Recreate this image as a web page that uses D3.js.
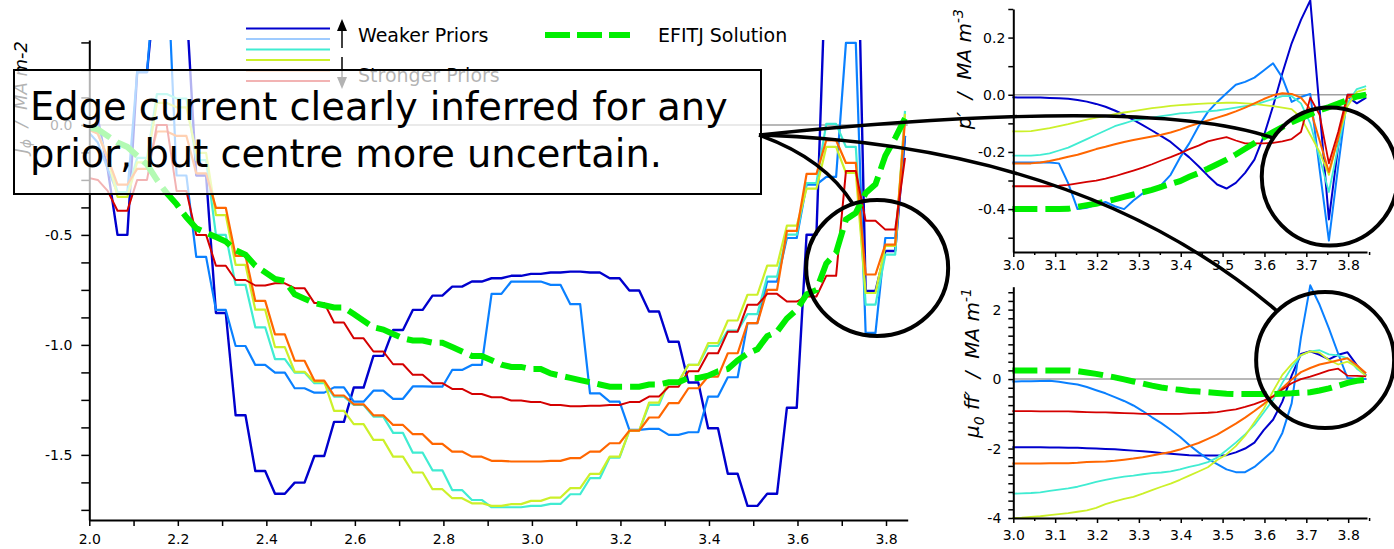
<!DOCTYPE html>
<html><head><meta charset="utf-8">
<script src="https://cdn.jsdelivr.net/npm/d3@7/dist/d3.min.js"></script>
<style>
body{margin:0;background:#fff;}
svg text{font-family:"DejaVu Sans",sans-serif;}
</style></head>
<body><svg id="chart" width="1394" height="549"></svg>
<script>
// ================= DATA =================
// sample grid in major radius R (m)
const gridStart = 1.997, gridStep = 0.02224, gridCount = 84;
const gridR = d3.range(gridCount).map(j => gridStart + j * gridStep);

// J_phi (main panel). Layout of each array: 3 single edge samples,
// then 40 step levels (each level held over two samples), then the last sample.
const jphiDarkBlue = [0.03, 0.03, -0.2,
  -0.50, 0.24, 0.70, 0.55, -0.23, -0.855, -1.32, -1.573, -1.677, -1.626,
  -1.505, -1.35, -1.194, -1.05, -0.932, -0.841, -0.776, -0.735, -0.712, -0.697,
  -0.686, -0.677, -0.671, -0.667, -0.671, -0.697, -0.753, -0.848, -0.986, -1.171,
  -1.379, -1.586, -1.732, -1.677, -1.286, -0.499, 0.8, 1.3, -0.755, -0.573,
  -0.05];
const jphiDodger = [-0.03, -0.08, -0.2,
  -0.31, 0.24, 0.8, -0.23, -0.60, -0.841, -1.005, -1.091, -1.126, -1.197,
  -1.217, -1.193, -1.258, -1.208, -1.245, -1.189, -1.19, -1.114, -1.091, -0.768,
  -0.712, -0.712, -0.727, -0.815, -1.22, -1.258, -1.386, -1.382, -1.409, -1.397,
  -1.235, -1.147, -0.901, -0.712, -0.514, -0.271, -0.236, 0.373, -0.945, -0.514,
  -0.05];
const jphiCyan = [-0.01, -0.03, -0.15,
  -0.305, -0.15, 0.14, 0.12, -0.16, -0.50, -0.727, -0.92, -1.065, -1.126,
  -1.174, -1.235, -1.273, -1.326, -1.40, -1.49, -1.57, -1.66, -1.705, -1.738,
  -1.738, -1.732, -1.723, -1.679, -1.606, -1.512, -1.39, -1.273, -1.167, -1.091,
  -1.005, -0.935, -0.86, -0.69, -0.499, -0.264, 0.005, -0.1, -0.817, -0.59,
  0.064];
const jphiYellow = [-0.01, -0.04, -0.15,
  -0.327, -0.17, 0.10, 0.08, -0.127, -0.41, -0.636, -0.84, -1.01, -1.122,
  -1.167, -1.30, -1.36, -1.432, -1.508, -1.58, -1.656, -1.697, -1.72, -1.732,
  -1.724, -1.709, -1.694, -1.651, -1.586, -1.508, -1.39, -1.262, -1.167, -1.091,
  -0.992, -0.889, -0.772, -0.64, -0.458, -0.29, -0.1, -0.218, -0.764, -0.55,
  0.05];
const jphiOrange = [-0.02, -0.04, -0.15,
  -0.271, -0.2, -0.03, -0.05, -0.22, -0.377, -0.595, -0.80, -0.952, -1.072,
  -1.162, -1.23, -1.27, -1.32, -1.364, -1.406, -1.45, -1.485, -1.508, -1.527,
  -1.53, -1.53, -1.527, -1.515, -1.485, -1.447, -1.39, -1.33, -1.265, -1.197,
  -1.144, -1.038, -0.901, -0.75, -0.482, -0.223, -0.07, -0.173, -0.68, -0.544,
  0.02];
const jphiRed = [-0.24, -0.25, -0.3,
  -0.39, -0.25, 0.0, -0.30, -0.50, -0.64, -0.705, -0.73, -0.72, -0.742,
  -0.81, -0.898, -0.97, -1.03, -1.088, -1.136, -1.174, -1.2, -1.223, -1.238,
  -1.253, -1.26, -1.273, -1.279, -1.277, -1.273, -1.26, -1.235, -1.19, -1.12,
  -1.038, -0.94, -0.818, -0.768, -0.803, -0.78, -0.686, -0.21, -0.436, -0.476,
  -0.15];
// EFITJ solution, one value per grid sample
const jphiEFITJ = [-0.01,-0.02,-0.05,-0.08,-0.10,-0.14,-0.18,-0.25,-0.31,-0.36,
  -0.42,-0.47,-0.49,-0.51,-0.53,-0.57,-0.59,-0.64,-0.67,-0.70,
  -0.71,-0.77,-0.79,-0.81,-0.82,-0.83,-0.83,-0.86,-0.89,-0.92,
  -0.93,-0.95,-0.97,-0.98,-0.98,-0.99,-0.99,-1.01,-1.03,-1.05,
  -1.05,-1.07,-1.09,-1.10,-1.10,-1.11,-1.11,-1.13,-1.14,-1.15,
  -1.16,-1.17,-1.18,-1.19,-1.19,-1.19,-1.19,-1.18,-1.18,-1.17,
  -1.17,-1.15,-1.15,-1.14,-1.12,-1.11,-1.07,-1.04,-1.02,-0.96,
  -0.94,-0.88,-0.84,-0.77,-0.75,-0.63,-0.58,-0.43,-0.40,-0.31,
  -0.27,-0.14,-0.06,0.03];

// right panels use grid samples 45..83 (R = 3.0 .. 3.845)
const rightStartIndex = 45;
const ppDarkBlue = [-0.009,-0.01,-0.01,-0.01,-0.011,-0.012,-0.014,-0.018,-0.024,-0.032,
  -0.042,-0.055,-0.07,-0.088,-0.106,-0.125,-0.145,-0.165,-0.192,-0.219,
  -0.25,-0.283,-0.314,-0.328,-0.308,-0.273,-0.227,-0.145,-0.04,0.075,
  0.18,0.262,0.33,-0.05,-0.436,-0.18,-0.006,-0.03,-0.01];
const ppDodger = [-0.237,-0.237,-0.237,-0.237,-0.237,-0.24,-0.31,-0.40,-0.395,-0.385,
  -0.375,-0.39,-0.40,-0.37,-0.345,-0.33,-0.315,-0.28,-0.22,-0.17,
  -0.11,-0.06,-0.025,0.005,0.035,0.045,0.06,0.085,0.11,0.06,
  -0.025,-0.008,0.003,-0.26,-0.51,-0.25,0.0,0.0,0.0];
const ppCyan = [-0.213,-0.213,-0.213,-0.21,-0.205,-0.195,-0.185,-0.17,-0.155,-0.14,
  -0.125,-0.11,-0.10,-0.09,-0.085,-0.08,-0.075,-0.07,-0.065,-0.063,
  -0.06,-0.058,-0.055,-0.05,-0.045,-0.04,-0.035,-0.025,-0.015,-0.005,
  -0.005,-0.03,-0.1,-0.22,-0.34,-0.18,-0.03,0.02,0.03];
const ppYellow = [-0.128,-0.128,-0.127,-0.122,-0.117,-0.11,-0.103,-0.095,-0.087,-0.08,
  -0.075,-0.068,-0.062,-0.057,-0.052,-0.047,-0.043,-0.039,-0.036,-0.034,
  -0.032,-0.03,-0.029,-0.028,-0.028,-0.03,-0.032,-0.036,-0.04,-0.045,
  -0.05,-0.08,-0.14,-0.2,-0.28,-0.15,-0.04,0.01,0.02];
const ppOrange = [-0.24,-0.24,-0.24,-0.237,-0.232,-0.225,-0.217,-0.21,-0.2,-0.19,
  -0.182,-0.173,-0.165,-0.158,-0.152,-0.146,-0.14,-0.132,-0.122,-0.11,
  -0.1,-0.09,-0.08,-0.07,-0.058,-0.045,-0.03,-0.015,-0.002,0.005,
  0.003,-0.01,-0.05,-0.16,-0.27,-0.15,-0.01,0.0,0.0];
const ppRed = [-0.32,-0.32,-0.32,-0.32,-0.32,-0.318,-0.315,-0.31,-0.305,-0.3,
  -0.293,-0.285,-0.275,-0.265,-0.255,-0.243,-0.23,-0.218,-0.205,-0.19,
  -0.178,-0.163,-0.155,-0.148,-0.16,-0.17,-0.17,-0.17,-0.168,-0.163,
  -0.155,-0.13,-0.01,-0.07,-0.24,-0.13,0.0,0.0,0.0];
const ppEFITJ = [-0.40,-0.40,-0.40,-0.40,-0.40,-0.40,-0.399,-0.392,-0.386,-0.381,
  -0.373,-0.366,-0.357,-0.349,-0.341,-0.333,-0.322,-0.312,-0.302,-0.287,
  -0.274,-0.259,-0.243,-0.227,-0.209,-0.189,-0.169,-0.149,-0.131,-0.113,
  -0.096,-0.082,-0.068,-0.054,-0.043,-0.031,-0.018,-0.006,0.0];

const ffDarkBlue = [-1.96,-1.96,-1.96,-1.96,-1.97,-1.97,-1.98,-1.98,-1.99,-2.0,
  -2.01,-2.02,-2.04,-2.06,-2.08,-2.1,-2.13,-2.15,-2.17,-2.19,
  -2.2,-2.2,-2.2,-2.19,-2.11,-2.0,-1.83,-1.47,-1.17,-0.65,
  0.1,0.72,0.8,0.7,0.57,0.7,0.77,0.4,0.1];
const ffDodger = [-0.07,-0.065,-0.06,-0.055,-0.05,-0.08,-0.12,-0.155,-0.23,-0.32,
  -0.41,-0.52,-0.63,-0.76,-0.92,-1.1,-1.27,-1.46,-1.66,-1.9,
  -2.11,-2.3,-2.45,-2.6,-2.68,-2.68,-2.53,-2.3,-2.06,-1.55,
  -0.7,1.2,2.7,2.14,1.46,0.73,0.03,0.0,0.0];
const ffCyan = [-3.3,-3.29,-3.28,-3.26,-3.22,-3.18,-3.15,-3.1,-3.03,-2.96,
  -2.9,-2.85,-2.81,-2.78,-2.74,-2.71,-2.69,-2.66,-2.6,-2.53,
  -2.47,-2.39,-2.26,-2.05,-1.83,-1.59,-1.32,-0.96,-0.6,-0.11,
  0.33,0.68,0.8,0.83,0.71,0.68,0.6,0.3,0.1];
const ffYellow = [-4.0,-3.99,-3.97,-3.95,-3.92,-3.89,-3.86,-3.82,-3.78,-3.71,
  -3.6,-3.52,-3.45,-3.39,-3.3,-3.2,-3.1,-3.01,-2.9,-2.78,
  -2.66,-2.54,-2.33,-2.17,-1.93,-1.63,-1.24,-0.86,-0.35,0.12,
  0.43,0.69,0.8,0.76,0.55,0.42,0.5,0.35,0.08];
const ffOrange = [-2.43,-2.43,-2.43,-2.43,-2.42,-2.42,-2.42,-2.41,-2.39,-2.38,
  -2.37,-2.35,-2.32,-2.29,-2.25,-2.2,-2.15,-2.1,-2.03,-1.93,
  -1.84,-1.72,-1.6,-1.44,-1.28,-1.11,-0.92,-0.72,-0.5,-0.26,
  -0.01,0.2,0.32,0.42,0.48,0.54,0.6,0.4,0.17];
const ffRed = [-0.92,-0.92,-0.92,-0.93,-0.93,-0.93,-0.93,-0.94,-0.95,-0.96,
  -0.96,-0.97,-0.98,-0.99,-1.0,-1.0,-1.0,-1.0,-1.0,-0.99,
  -0.98,-0.97,-0.95,-0.91,-0.87,-0.8,-0.72,-0.62,-0.5,-0.3,
  -0.12,0.0,0.07,0.16,0.25,0.3,0.1,0.09,0.08];
const ffEFITJ = [0.25,0.25,0.25,0.25,0.25,0.25,0.25,0.23,0.19,0.15,
  0.1,0.05,-0.01,-0.07,-0.13,-0.19,-0.24,-0.28,-0.31,-0.34,
  -0.36,-0.38,-0.4,-0.42,-0.43,-0.43,-0.43,-0.43,-0.43,-0.42,
  -0.41,-0.39,-0.38,-0.33,-0.27,-0.19,-0.11,-0.05,-0.02];

// ticks & labels
const mainXTicks = [2.0,2.1,2.2,2.3,2.4,2.5,2.6,2.7,2.8,2.9,3.0,3.1,3.2,3.3,3.4,3.5,3.6,3.7,3.8];
const mainXLabels = ["2.0","2.2","2.4","2.6","2.8","3.0","3.2","3.4","3.6","3.8"];
const mainYTicks = [-1.75,-1.625,-1.5,-1.375,-1.25,-1.125,-1.0,-0.875,-0.75,-0.625,-0.5,-0.375,-0.25,-0.125,0.0,0.125,0.25,0.375];
const mainYLabels = ["-1.5","-1.0","-0.5","0.0"];
const rightXTicks = [3.0,3.1,3.2,3.3,3.4,3.5,3.6,3.7,3.8];
const rightXLabels = ["3.0","3.1","3.2","3.3","3.4","3.5","3.6","3.7","3.8"];
const rightXMinor = [3.05,3.15,3.25,3.35,3.45,3.55,3.65,3.75,3.85];
const ppYTicks = [-0.5,-0.4,-0.3,-0.2,-0.1,0.0,0.1,0.2,0.3];
const ppYLabels = ["-0.4","-0.2","0.0","0.2"];
const ffYTicks = d3.range(-4, 2.51, 0.25);
const ffYLabels = ["-4","-2","0","2"];

const legendNames = ["Weaker Priors", "Stronger Priors", "EFITJ Solution"];
const annotationLines = ["Edge current clearly inferred for any", "prior, but centre more uncertain."];

const colors = {darkBlue:"#0000cd", dodger:"#0a80ff", cyan:"#40ecd2", yellow:"#ccf02a",
                orange:"#ff6600", red:"#d40000", green:"#00ee00", legendLight:"#9fcbff"};

// ================= DRAWING =================
const svg = d3.select("#chart");
const expandSteps = a => [a[0], a[1], a[2], ...a.slice(3, a.length - 1).flatMap(v => [v, v]), a[a.length - 1]];

function styleAxis(g, fs) {
  g.attr("font-family", "DejaVu Sans").attr("font-size", fs);
  g.select(".domain").attr("stroke", "#000").attr("stroke-width", 2);
  g.selectAll(".tick line").attr("stroke", "#000").attr("stroke-width", 1.5);
  g.selectAll(".tick text").attr("fill", "#000");
}

// ---------- main panel ----------
const xM = d3.scaleLinear().domain([2.0, 3.849]).range([89.3, 907.7]);
const yM = d3.scaleLinear().domain([-1.796, 0.386]).range([520, 40]);
const gMain = svg.append("g");
const defs = svg.append("defs");
defs.append("clipPath").attr("id", "clipMain").append("rect")
  .attr("x", xM(2.0)).attr("y", yM(0.386)).attr("width", xM(3.849) - xM(2.0)).attr("height", yM(-1.796) - yM(0.386));

gMain.append("line").attr("x1", xM(2.0)).attr("x2", xM(3.849)).attr("y1", yM(0)).attr("y2", yM(0))
  .attr("stroke", "#a0a0a0").attr("stroke-width", 1.5);

const lineM = d3.line().x(d => xM(d[0])).y(d => yM(d[1])).curve(d3.curveLinear);
const mainSeries = [
  [jphiDarkBlue, colors.darkBlue, 2.4],
  [jphiDodger, colors.dodger, 2.2],
  [jphiCyan, colors.cyan, 2.2],
  [jphiYellow, colors.yellow, 2.2],
  [jphiOrange, colors.orange, 2.2],
  [jphiRed, colors.red, 2.0]
];
const gLines = gMain.append("g").attr("clip-path", "url(#clipMain)");
mainSeries.forEach(([arr, col, w]) => {
  const vals = expandSteps(arr);
  gLines.append("path").datum(vals.map((v, j) => [gridR[j], v]))
    .attr("d", lineM).attr("fill", "none").attr("stroke", col).attr("stroke-width", w)
    .attr("stroke-linejoin", "round");
});
gLines.append("path").datum(jphiEFITJ.map((v, j) => [gridR[j], v]))
  .attr("d", lineM).attr("fill", "none").attr("stroke", colors.green).attr("stroke-width", 6)
  .attr("stroke-dasharray", "25,8");

const axMX = gMain.append("g").attr("transform", `translate(0,${yM(-1.796)})`)
  .call(d3.axisBottom(xM).tickValues(mainXTicks)
    .tickFormat(v => mainXLabels.includes(v.toFixed(1)) ? v.toFixed(1) : "")
    .tickSize(6).tickPadding(8).tickSizeOuter(0));
styleAxis(axMX, 14);
const axMY = gMain.append("g").attr("transform", `translate(${xM(2.0)},0)`)
  .call(d3.axisLeft(yM).tickValues(mainYTicks)
    .tickFormat(v => mainYLabels.includes(v.toFixed(1)) && Math.abs(v * 2 - Math.round(v * 2)) < 1e-9 ? v.toFixed(1) : "")
    .tickSize(8).tickPadding(9).tickSizeOuter(0));
styleAxis(axMY, 14);

const ylM = gMain.append("text").attr("transform", "translate(27,41) rotate(-90)")
  .attr("text-anchor", "end").attr("font-size", 18).attr("font-style", "italic").style("white-space", "pre");
ylM.append("tspan").text("J");
ylM.append("tspan").attr("dy", 4).attr("font-size", 14).text("ϕ");
ylM.append("tspan").attr("dy", -4).text("  /  MA m-2");

// ---------- right panels ----------
const rightR = gridR.slice(rightStartIndex);
const xR = d3.scaleLinear().domain([3.0, 3.845]).range([1013.3, 1367]);
const yT = d3.scaleLinear().domain([-0.55, 0.3]).range([252, 9]);
const yB = d3.scaleLinear().domain([-4, 2.66]).range([518, 286.7]);

function drawPanel(yS, series, green, yTicks, yLabels, yFmt, tickPadY, tickPadX, yLabelParts, lblPos) {
  const g = svg.append("g");
  const [y0, y1] = yS.domain();
  g.append("line").attr("x1", xR(3.0)).attr("x2", xR(3.845)).attr("y1", yS(0)).attr("y2", yS(0))
    .attr("stroke", "#a0a0a0").attr("stroke-width", 1.5);
  const ln = d3.line().x(d => xR(d[0])).y(d => yS(d[1]));
  series.forEach(([arr, col, w]) => {
    g.append("path").datum(arr.map((v, i) => [rightR[i], v])).attr("d", ln)
      .attr("fill", "none").attr("stroke", col).attr("stroke-width", w).attr("stroke-linejoin", "round");
  });
  g.append("path").datum(green.map((v, i) => [rightR[i], v])).attr("d", ln)
    .attr("fill", "none").attr("stroke", colors.green).attr("stroke-width", 6).attr("stroke-dasharray", "25,8");
  const ax = g.append("g").attr("transform", `translate(0,${yS(y0)})`)
    .call(d3.axisBottom(xR).tickValues(rightXTicks).tickFormat((v, i) => rightXLabels[i])
      .tickSize(5).tickPadding(tickPadX).tickSizeOuter(0));
  styleAxis(ax, 14);
  const axm = g.append("g").attr("transform", `translate(0,${yS(y0)})`)
    .call(d3.axisBottom(xR).tickValues(rightXMinor).tickFormat("").tickSize(3).tickSizeOuter(0));
  styleAxis(axm, 14); axm.select(".domain").remove();
  const ay = g.append("g").attr("transform", `translate(${xR(3.0)},0)`)
    .call(d3.axisLeft(yS).tickValues(yTicks).tickFormat(v => { const s = yFmt(v); return yLabels.includes(s) ? s : ""; })
      .tickSize(5).tickPadding(tickPadY).tickSizeOuter(0));
  styleAxis(ay, 14);
  const t = g.append("text").attr("transform", `translate(${lblPos[0]},${lblPos[1]}) rotate(-90)`)
    .attr("text-anchor", "end").attr("font-size", 20).attr("font-style", "italic").style("white-space", "pre");
  yLabelParts.forEach(p => { const ts = t.append("tspan").text(p.t); if (p.dy) ts.attr("dy", p.dy); if (p.fs) ts.attr("font-size", p.fs); });
}

drawPanel(yT, [
  [ppDarkBlue, colors.darkBlue, 2], [ppDodger, colors.dodger, 2], [ppCyan, colors.cyan, 1.8],
  [ppYellow, colors.yellow, 1.8], [ppOrange, colors.orange, 2], [ppRed, colors.red, 1.8]
], ppEFITJ, ppYTicks, ppYLabels, v => v.toFixed(1), 3, 3,
  [{t: "p′  /  MA m"}, {t: "-3", dy: -8, fs: 14}], [971, 9]);

drawPanel(yB, [
  [ffDarkBlue, colors.darkBlue, 2], [ffDodger, colors.dodger, 2], [ffCyan, colors.cyan, 1.8],
  [ffYellow, colors.yellow, 1.8], [ffOrange, colors.orange, 2], [ffRed, colors.red, 1.8]
], ffEFITJ, ffYTicks, ffYLabels, v => String(Math.round(v * 100) / 100), 7, 7,
  [{t: "μ"}, {t: "0", dy: 5, fs: 14}, {t: " ff′  /  MA m", dy: -5}, {t: "-1", dy: -8, fs: 14}], [979, 288]);

// ---------- legend ----------
const gLeg = svg.append("g");
const legCols = [colors.darkBlue, colors.legendLight, colors.cyan, colors.yellow, colors.orange, colors.red];
legCols.forEach((c, i) => {
  gLeg.append("line").attr("x1", 246).attr("x2", 330).attr("y1", 28.5 + i * 10.5).attr("y2", 28.5 + i * 10.5)
    .attr("stroke", c).attr("stroke-width", 2);
});
gLeg.append("line").attr("x1", 342).attr("x2", 342).attr("y1", 48).attr("y2", 28).attr("stroke", "#000").attr("stroke-width", 1.5);
gLeg.append("path").attr("d", "M342,19 L337,31 L347,31 Z").attr("fill", "#000");
gLeg.append("line").attr("x1", 342).attr("x2", 342).attr("y1", 57).attr("y2", 78).attr("stroke", "#000").attr("stroke-width", 1.5);
gLeg.append("path").attr("d", "M342,89 L337,77 L347,77 Z").attr("fill", "#000");
gLeg.append("text").attr("x", 358).attr("y", 41.5).attr("font-size", 19).text(legendNames[0]);
gLeg.append("text").attr("x", 358).attr("y", 81.5).attr("font-size", 19).text(legendNames[1]);
gLeg.append("line").attr("x1", 545).attr("x2", 630).attr("y1", 35).attr("y2", 35)
  .attr("stroke", colors.green).attr("stroke-width", 6).attr("stroke-dasharray", "25,7");
gLeg.append("text").attr("x", 658).attr("y", 41.5).attr("font-size", 19).text(legendNames[2]);

// ---------- annotation ----------
const gAnn = svg.append("g");
gAnn.append("rect").attr("x", 14).attr("y", 70).attr("width", 747).attr("height", 124)
  .attr("fill", "#fff").attr("fill-opacity", 0.7).attr("stroke", "#000").attr("stroke-width", 2);
annotationLines.forEach((s, i) => {
  gAnn.append("text").attr("x", 30).attr("y", 120 + i * 47).attr("font-size", 38.4).attr("fill", "#000").text(s);
});
const anchor = [759, 135];
const connectors = [
  [[824, 158], [853, 204]],
  [[1150, 95], [1273, 138]],
  [[1082, 145], [1277, 311]]
];
connectors.forEach(([c, e]) => {
  const p = d3.path(); p.moveTo(anchor[0], anchor[1]); p.quadraticCurveTo(c[0], c[1], e[0], e[1]);
  gAnn.append("path").attr("d", p.toString()).attr("fill", "none").attr("stroke", "#000").attr("stroke-width", 3.5);
});
const circles = [
  [xM(3.78), yM(-0.65), 71, 68],
  [xR(3.756), yT(-0.286), 68, 69],
  [xR(3.745), yB(0.55), 69, 68]
];
circles.forEach(([cx, cy, rx, ry]) => {
  gAnn.append("ellipse").attr("cx", cx).attr("cy", cy).attr("rx", rx).attr("ry", ry)
    .attr("fill", "none").attr("stroke", "#000").attr("stroke-width", 4);
});
</script>
</body></html>
